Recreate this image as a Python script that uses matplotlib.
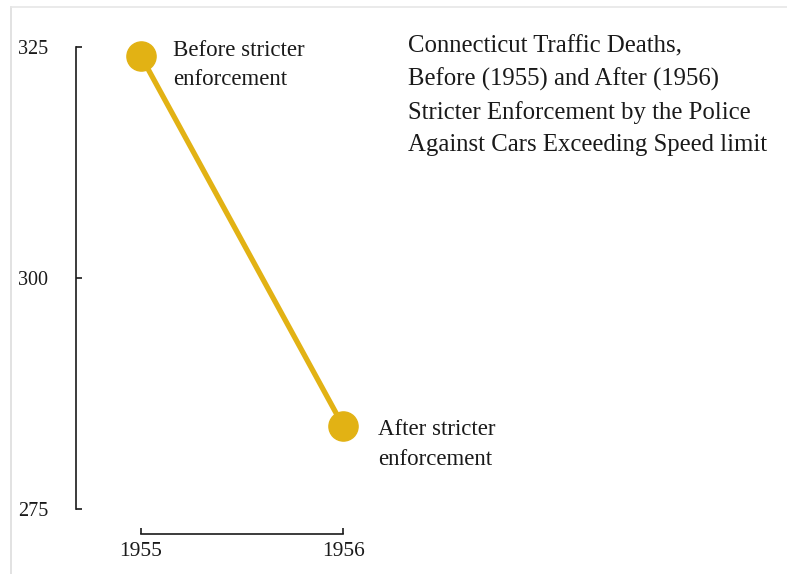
import matplotlib
matplotlib.use('Agg')
import matplotlib.pyplot as plt
from matplotlib.lines import Line2D

# Connecticut traffic deaths
years = [1955, 1956]
deaths = [324, 284]
point_labels = ['Before stricter\nenforcement', 'After stricter\nenforcement']
y_ticks = [275, 300, 325]
title_text = ('Connecticut Traffic Deaths,\n'
              'Before (1955) and After (1956)\n'
              'Stricter Enforcement by the Police\n'
              'Against Cars Exceeding Speed limit')

GOLD = '#E2B214'
INK = '#1A1A1A'
W, H = 787, 574

plt.rcParams['font.family'] = ['Liberation Serif', 'DejaVu Serif']

fig = plt.figure(figsize=(W / 100, H / 100), dpi=100)

# axes box in pixel terms: spine at x=76, y range 47..509
left, right, top, bottom = 76, 780, 47, 509
ax = fig.add_axes([left / W, 1 - bottom / H, (right - left) / W, (bottom - top) / H])

ax.plot(years, deaths, color=GOLD, linewidth=3.8, marker='o',
        markersize=21, solid_capstyle='round', zorder=3, clip_on=False)

ax.set_ylim(275, 325)
ax.set_xlim(1954.678, 1958.163)

for s in ['top', 'right']:
    ax.spines[s].set_visible(False)
ax.spines['left'].set_bounds(275, 325)
ax.spines['bottom'].set_position(('outward', 18))
ax.spines['bottom'].set_bounds(1955, 1956)
for s in ['left', 'bottom']:
    ax.spines[s].set_color(INK)
    ax.spines[s].set_linewidth(1.2)

ax.set_yticks(y_ticks)
ax.set_yticklabels([str(t) for t in y_ticks])
ax.set_xticks(years)
ax.set_xticklabels([str(y) for y in years])
ax.tick_params(axis='y', direction='in', length=4, width=1.2, pad=20,
               labelsize=14.5, colors=INK)
ax.tick_params(axis='x', direction='in', length=4, width=1.2, pad=6,
               labelsize=15.5, colors=INK)

# point annotations
ax.annotate(point_labels[0], (years[0], deaths[0]), xytext=(23, 12),
            textcoords='offset points', ha='left', va='top',
            fontsize=16.5, color=INK, linespacing=1.5)
ax.annotate(point_labels[1], (years[1], deaths[1]), xytext=(25, 5),
            textcoords='offset points', ha='left', va='top',
            fontsize=16.5, color=INK, linespacing=1.55)

fig.text(408 / W, 1 - 35 / H, title_text, ha='left', va='top',
         fontsize=17.8, color=INK, linespacing=1.58)

# thin frame at top and left edges
fig.add_artist(Line2D([11 / W, 11 / W], [0, 1 - 7 / H], color='#DDDDDD',
                      linewidth=1.2, transform=fig.transFigure))
fig.add_artist(Line2D([11 / W, 1], [1 - 7 / H, 1 - 7 / H], color='#E6E6E6',
                      linewidth=1.2, transform=fig.transFigure))

fig.savefig('out.png', dpi=100, facecolor='white')
